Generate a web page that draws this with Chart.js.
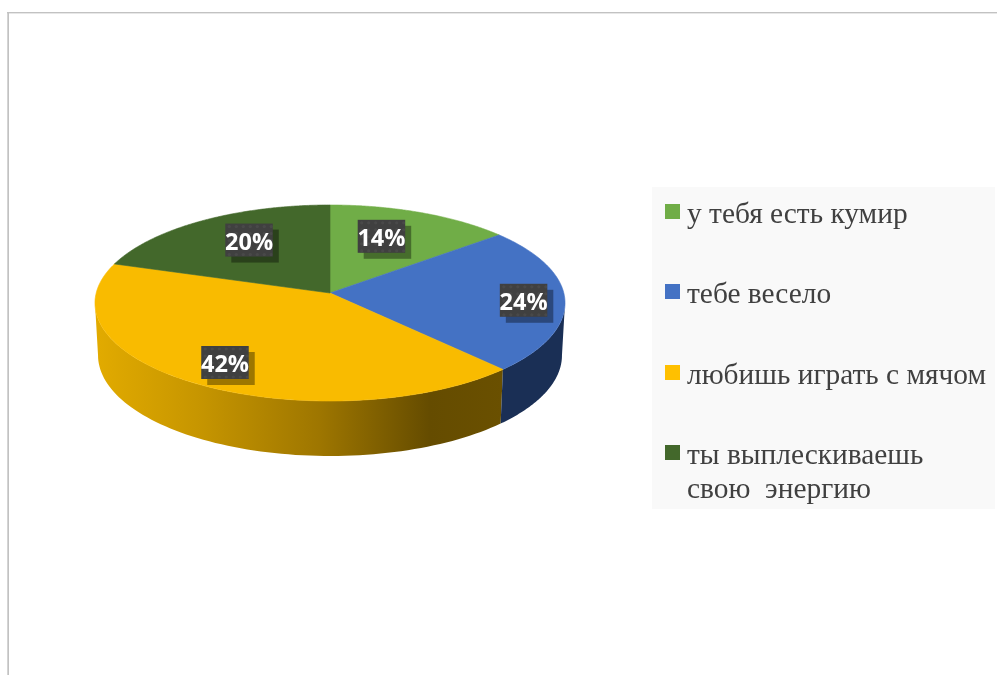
<!DOCTYPE html>
<html lang="ru">
<head>
<meta charset="utf-8">
<title>Pie</title>
<script src="https://cdn.jsdelivr.net/npm/chart.js@4"></script>
<style>
html,body{margin:0;padding:0;background:#fff;overflow:hidden}
canvas{display:block}
</style>
</head>
<body>
<canvas id="c" width="997" height="675"></canvas>
<script>
// ---- data ----
const categories = [
  "у тебя есть кумир",
  "тебе весело",
  "любишь играть с мячом",
  ["ты выплескиваешь", "свою  энергию"]
];
const shares = [14, 24, 42, 20];
const faceColors = ["#70AD47", "#4472C4", "#F9BB00", "#43682B"];
const legendColors = ["#70AD47", "#4472C4", "#FFC000", "#43682B"];

// ---- look of the tilted pie (a perspective view of the library's arcs) ----
const tilt = { cx: 330, cy: 293, rx: 233.8, ry: 67.1, persp: -0.102 };
const wall = { base: 52, growth: 3, shrink: 0.987 };
const labelNudge = [[-14, 1], [29.5, 3], [-11.7, 8.5], [10, -1]];
const FONT_LEGEND = '"Liberation Serif", serif';
const FONT_LABEL = '"Open Sans", sans-serif';

function project(u, v) {
  const w = 1 + tilt.persp * v;
  return { x: tilt.cx + tilt.rx * u / w, y: (tilt.cy + tilt.ry * v) / w, v };
}
function rimPoint(angle, r = 1) {
  return project(r * Math.cos(angle), r * Math.sin(angle));
}
function lowerPoint(angle) {
  const p = rimPoint(angle);
  return {
    x: tilt.cx + (p.x - tilt.cx) * wall.shrink,
    y: p.y + wall.base + wall.growth * Math.sin(angle)
  };
}
function wallPath(ctx, a0, a1) {
  const n = 80;
  ctx.beginPath();
  for (let i = 0; i <= n; i++) {
    const p = rimPoint(a0 + (a1 - a0) * i / n);
    i ? ctx.lineTo(p.x, p.y) : ctx.moveTo(p.x, p.y);
  }
  for (let i = n; i >= 0; i--) {
    const p = lowerPoint(a0 + (a1 - a0) * i / n);
    ctx.lineTo(p.x, p.y);
  }
  ctx.closePath();
}

const tiltedPie = {
  id: 'tiltedPie',
  beforeDraw(chart) {
    const ctx = chart.ctx;
    ctx.save();
    // page frame
    ctx.fillStyle = '#c2c2c2';
    ctx.fillRect(7, 12, 990, 1.4);
    ctx.fillRect(7.3, 12, 1.7, 663);
    // legend panel
    ctx.fillStyle = '#F9F9F9';
    ctx.fillRect(652, 187, 343, 322);
    ctx.restore();
  },
  beforeDatasetsDraw(chart) {
    const ctx = chart.ctx;
    const arcs = chart.getDatasetMeta(0).data;
    const side = Math.asin(-tilt.persp);   // angle of the disc's silhouette
    ctx.save();
    // side wall
    const split = arcs[1].endAngle;
    const yellowFill = ctx.createLinearGradient(95, 0, 503, 0);
    yellowFill.addColorStop(0, '#E2AB00');
    yellowFill.addColorStop(0.25, '#C79600');
    yellowFill.addColorStop(0.55, '#9E7600');
    yellowFill.addColorStop(0.82, '#654C00');
    yellowFill.addColorStop(1, '#6A5000');
    wallPath(ctx, split, Math.PI - side);
    ctx.fillStyle = yellowFill;
    ctx.fill();
    wallPath(ctx, side, split);
    ctx.fillStyle = '#1A2F55';
    ctx.fill();
    // top faces
    arcs.forEach((arc, i) => {
      const n = 160;
      ctx.beginPath();
      const c = project(0, 0);
      ctx.moveTo(c.x, c.y);
      for (let k = 0; k <= n; k++) {
        const p = rimPoint(arc.startAngle + (arc.endAngle - arc.startAngle) * k / n);
        ctx.lineTo(p.x, p.y);
      }
      ctx.closePath();
      ctx.fillStyle = arc.options.backgroundColor;
      ctx.strokeStyle = arc.options.backgroundColor;
      ctx.lineWidth = 0.6;
      ctx.fill();
      ctx.stroke();
    });
    ctx.restore();
    return false;
  },
  afterDraw(chart) {
    const ctx = chart.ctx;
    const arcs = chart.getDatasetMeta(0).data;
    const total = shares.reduce((a, b) => a + b, 0);
    ctx.save();
    // percent labels
    arcs.forEach((arc, i) => {
      const mid = (arc.startAngle + arc.endAngle) / 2;
      const a = rimPoint(mid, 0.7);
      const x = a.x + labelNudge[i][0], y = a.y + labelNudge[i][1];
      const w = 47.5, h = 33;
      const l = x - w / 2, t = y - h / 2;
      ctx.fillStyle = 'rgba(0,0,0,0.37)';
      ctx.fillRect(l + 6, t + 6, w, h);
      ctx.fillStyle = '#404040';
      ctx.fillRect(l, t, w, h);
      ctx.save();
      ctx.beginPath();
      ctx.rect(l, t, w, h);
      ctx.clip();
      ctx.fillStyle = 'rgba(255,255,255,0.05)';
      for (let py = t + 3; py < t + h; py += 7) {
        for (let px = l + 4; px < l + w; px += 7) {
          ctx.beginPath();
          ctx.arc(px, py, 1.6, 0, Math.PI * 2);
          ctx.fill();
        }
      }
      ctx.restore();
      ctx.fillStyle = '#fff';
      ctx.font = 'bold 23.5px ' + FONT_LABEL;
      ctx.textAlign = 'center';
      ctx.textBaseline = 'alphabetic';
      ctx.fillText(Math.round(shares[i] / total * 100) + '%', x, y + 9.5);
    });
    // legend
    const top = 204, step = 80.4, box = 15, textX = 687, lineH = 34;
    ctx.font = '29.4px ' + FONT_LEGEND;
    ctx.textAlign = 'left';
    ctx.textBaseline = 'alphabetic';
    chart.data.labels.forEach((label, i) => {
      const y = Math.round(top + step * i);
      ctx.fillStyle = legendColors[i];
      ctx.fillRect(665, y, box, box);
      ctx.fillStyle = '#404040';
      [].concat(label).forEach((line, k) => ctx.fillText(line, textX, y + 19 + k * lineH));
    });
    ctx.restore();
  }
};

new Chart(document.getElementById('c'), {
  type: 'pie',
  data: {
    labels: categories,
    datasets: [{ data: shares, backgroundColor: faceColors, borderWidth: 0 }]
  },
  options: {
    responsive: false,
    animation: false,
    plugins: { legend: { display: false }, tooltip: { enabled: false } }
  },
  plugins: [tiltedPie]
});
</script>
</body>
</html>
